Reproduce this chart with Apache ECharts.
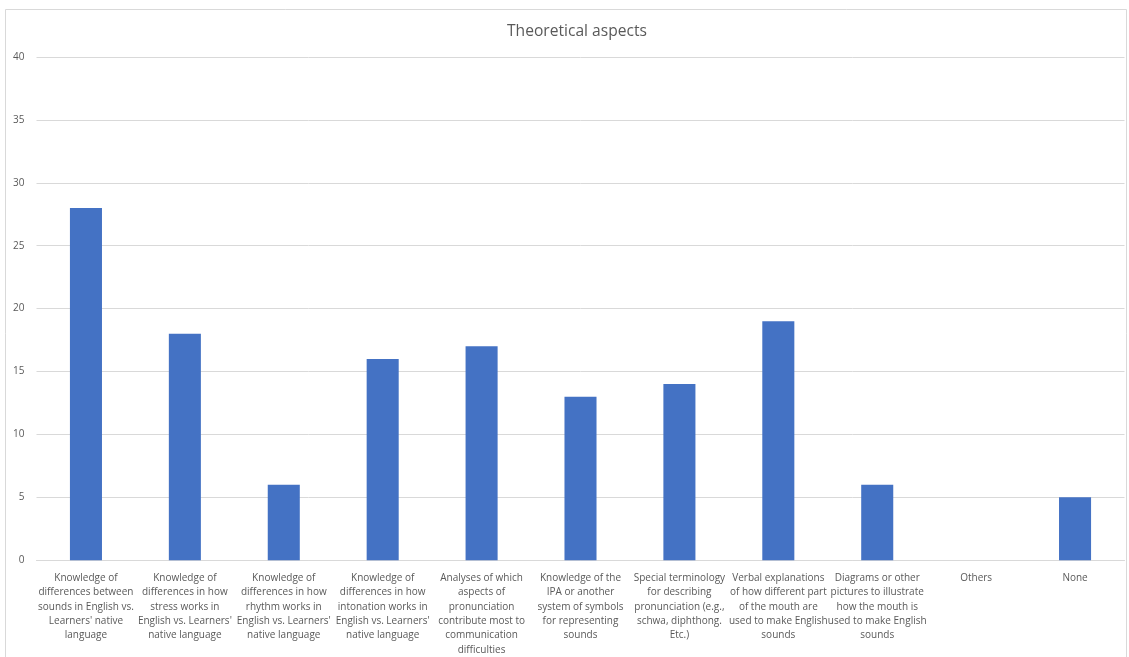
<!DOCTYPE html>
<html>
<head>
<meta charset="utf-8">
<script src="https://cdn.jsdelivr.net/npm/echarts@6/dist/echarts.min.js"></script>
<style>
html,body{margin:0;padding:0;background:#fff;}
#chart{width:1129px;height:657px;}
</style>
</head>
<body>
<div id="chart"></div>
<script>
const title = "Theoretical aspects";
const categories = [
  "Knowledge of\ndifferences between\nsounds in English vs.\nLearners' native\nlanguage",
  "Knowledge of\ndifferences in how\nstress works in\nEnglish vs. Learners'\nnative language",
  "Knowledge of\ndifferences in how\nrhythm works in\nEnglish vs. Learners'\nnative language",
  "Knowledge of\ndifferences in how\nintonation works in\nEnglish vs. Learners'\nnative language",
  "Analyses of which\naspects of\npronunciation\ncontribute most to\ncommunication\ndifficulties",
  "Knowledge of the\nIPA or another\nsystem of symbols\nfor representing\nsounds",
  "Special terminology\nfor describing\npronunciation (e.g.,\nschwa, diphthong.\nEtc.)",
  "Verbal explanations\nof how different part\nof the mouth are\nused to make English\nsounds",
  "Diagrams or other\npictures to illustrate\nhow the mouth is\nused to make English\nsounds",
  "Others",
  "None"
];
const values = [28, 18, 6, 16, 17, 13, 14, 19, 6, 0, 5];
const yTicks = { min: 0, max: 40, interval: 5 };

const chart = echarts.init(document.getElementById('chart'));
chart.setOption({
  animation: false,
  backgroundColor: '#fff',
  title: {
    text: title,
    left: 502,
    top: 19,
    textStyle: { fontFamily: 'Open Sans, sans-serif', fontSize: 15.6, fontWeight: 'normal', color: '#595959' }
  },
  graphic: [{
    type: 'rect',
    shape: { x: 5.5, y: 9.5, width: 1121, height: 660 },
    style: { fill: 'none', stroke: '#d9d9d9', lineWidth: 1 },
    silent: true
  }],
  grid: { left: 36.5, right: 4.5, top: 57, bottom: 94, containLabel: false },
  xAxis: {
    type: 'category',
    data: categories,
    axisLine: { show: true, lineStyle: { color: '#d9d9d9', width: 1 } },
    axisTick: { show: false },
    axisLabel: {
      interval: 0,
      margin: 11,
      color: '#595959',
      fontFamily: 'Open Sans, sans-serif',
      fontSize: 10,
      lineHeight: 14.3
    }
  },
  yAxis: {
    type: 'value',
    min: yTicks.min,
    max: yTicks.max,
    interval: yTicks.interval,
    axisLine: { show: false },
    axisTick: { show: false },
    splitLine: { lineStyle: { color: '#d9d9d9', width: 1 } },
    axisLabel: {
      margin: 12,
      color: '#595959',
      fontFamily: 'Open Sans, sans-serif',
      fontSize: 10
    }
  },
  series: [{
    type: 'bar',
    data: values,
    barWidth: '32.4%',
    itemStyle: { color: '#4472c4' }
  }]
});
</script>
</body>
</html>
